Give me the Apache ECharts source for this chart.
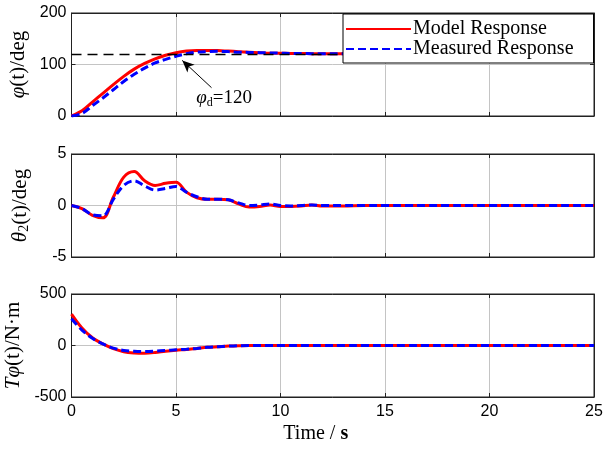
<!DOCTYPE html>
<html><head><meta charset="utf-8">
<script src="https://cdn.jsdelivr.net/npm/echarts@6/dist/echarts.min.js"></script>
<style>html,body{margin:0;padding:0;background:#fff}#c{width:606px;height:454px}</style>
</head><body><div id="c"></div>
<script>
const time = [0,0.5,1,1.5,2,2.5,3,3.5,4,4.5,5,5.5,6,6.5,7,7.5,8,8.5,9,9.5,10,10.5,11,11.5,12,13,14,15,16,17,18,19,20,21,22,23,24,25];
const phiModel = [0,10,27,44,61,77,91,102,111,118,123,126,127,127,127,126,125,124,123,122,122,121.5,121.5,121,121,121,121,121,121,121,121,121,121,121,121,121,121,121];
const phiMeasured = [0,5,20,35,51,67,81,93,103,110,116,121,124,125,125.5,125,124,123.5,123,122.5,122,121.5,121.5,121,121,121,121,121,121,121,121,121,121,121,121,121,121,121];
const thetaModel = [0,-0.3,-0.95,-1.2,0.8,2.75,3.3,2.4,1.95,2.15,2.25,1.3,0.75,0.6,0.6,0.55,0.15,-0.15,-0.1,0.05,-0.1,-0.1,-0.05,0.05,-0.05,-0.05,0,0,0,0,0,0,0,0,0,0,0,0];
const thetaMeasured = [0,-0.3,-0.9,-1.0,0.6,1.95,2.4,1.9,1.5,1.65,1.85,1.3,0.85,0.6,0.6,0.55,0.25,0,0.05,0.15,0,-0.05,0,0.05,0,0,0,0,0,0,0,0,0,0,0,0,0,0];
const torqueModel = [305,170,75,15,-30,-60,-72,-75,-68,-55,-45,-38,-28,-18,-12,-6,-2,0,0,0,0,0,0,0,0,0,0,0,0,0,0,0,0,0,0,0,0,0];
const torqueMeasured = [260,150,70,15,-25,-48,-56,-58,-55,-48,-42,-36,-28,-18,-12,-6,-2,0,0,0,0,0,0,0,0,0,0,0,0,0,0,0,0,0,0,0,0,0];
const phiDesired = 120;
const xTicks = {min:0, max:25, interval:5};
const yRanges = [{min:0,max:200,interval:100},{min:-5,max:5,interval:5},{min:-500,max:500,interval:500}];
const seriesNames = ['Model Response','Measured Response'];

const pairs = (vals) => time.map((t,i)=>[t, vals[i]]);
const serif = 'Liberation Serif';
const sans = 'Liberation Sans';
const tops = [13,154,294];
const grids = tops.map(t=>({left:71.5,right:12,top:t,height:103,show:true,borderColor:'#222',borderWidth:1,containLabel:false,outerBoundsMode:'none'}));
const xAxes = [], yAxes = [];
const gridLine = {show:true,lineStyle:{color:'#c4c4c4',width:1}};
for (let g=0; g<3; g++){
  xAxes.push({type:'value',gridIndex:g,...xTicks,position:'bottom',
    axisLine:{show:true,onZero:false,lineStyle:{color:'#222'}},
    axisTick:{show:true,inside:true,length:4,lineStyle:{color:'#222'}},
    axisLabel:{show:g===2,color:'#000',fontFamily:sans,fontSize:16,margin:7},
    splitLine:gridLine,
    name: g===2 ? '{a|Time / }{b|s}' : '', nameLocation:'middle', nameGap:27,
    nameTextStyle:{padding:[0,34,0,0],rich:{a:{fontFamily:serif,fontSize:20,color:'#000'},b:{fontFamily:serif,fontSize:20,fontWeight:'bold',color:'#000'}}}
  });
  xAxes.push({type:'value',gridIndex:g,...xTicks,position:'top',
    axisLine:{show:true,onZero:false,lineStyle:{color:'#222'}},
    axisTick:{show:true,inside:true,length:4,lineStyle:{color:'#222'}},
    axisLabel:{show:false},splitLine:{show:false}});
}
const yNames = ['{i|φ}{n|(t)/deg}','{i|θ}{s|2}{n|(t)/deg}','{i|Tφ}{n|(t)/N·m}'];
const richY = {i:{fontFamily:serif,fontStyle:'italic',fontSize:21,color:'#000'},n:{fontFamily:serif,fontSize:21,color:'#000'},s:{fontFamily:serif,fontSize:14,color:'#000',padding:[8,0,0,0]}};
for (let g=0; g<3; g++){
  yAxes.push({type:'value',gridIndex:g,...yRanges[g],position:'left',
    axisLine:{show:true,onZero:false,lineStyle:{color:'#222'}},
    axisTick:{show:true,inside:true,length:4,lineStyle:{color:'#222'}},
    axisLabel:{color:'#000',fontFamily:sans,fontSize:16,margin:5},
    splitLine:gridLine,
    name:yNames[g],nameLocation:'middle',nameRotate:90,nameGap:40,
    nameTextStyle:{rich:richY}});
  yAxes.push({type:'value',gridIndex:g,...yRanges[g],position:'right',
    axisLine:{show:true,onZero:false,lineStyle:{color:'#222'}},
    axisTick:{show:true,inside:true,length:4,lineStyle:{color:'#222'}},
    axisLabel:{show:false},splitLine:{show:false}});
}
const data = [[phiModel,phiMeasured],[thetaModel,thetaMeasured],[torqueModel,torqueMeasured]];
const series = [];
for (let g=0; g<3; g++){
  series.push({name:seriesNames[0],type:'line',xAxisIndex:2*g,yAxisIndex:2*g,data:pairs(data[g][0]),
    showSymbol:false,symbol:'none',smooth:0.35,lineStyle:{color:'#ff0000',width:3},itemStyle:{color:'#ff0000'},z:3,
    markLine: g===0 ? {silent:true,symbol:['none','none'],label:{show:false},
      lineStyle:{color:'#000',type:[10,6],width:1.3},
      data:[{yAxis:phiDesired}]} : undefined});
  series.push({name:seriesNames[1],type:'line',xAxisIndex:2*g,yAxisIndex:2*g,data:pairs(data[g][1]),
    showSymbol:false,symbol:'none',smooth:0.35,lineStyle:{color:'#0000ff',width:3,type:[8,4]},itemStyle:{color:'#3f5fb3'},z:4,
    markLine: g===0 ? {silent:true,symbol:['none','arrow'],symbolSize:[8,12],label:{show:false},
      lineStyle:{color:'#000',type:'solid',width:1},
      data:[[{coord:[6.7,55]},{coord:[5.3,108]}]]} : undefined,
    markPoint: g===0 ? {silent:true,symbol:'circle',symbolSize:0,
      label:{show:true,position:'inside',formatter:'{i|φ}{s|d}{n|=120}',
        rich:{i:{fontFamily:serif,fontStyle:'italic',fontSize:19,color:'#000'},s:{fontFamily:serif,fontSize:12,color:'#000',padding:[8,0,0,0]},n:{fontFamily:serif,fontSize:19,color:'#000'}}},
      data:[{coord:[7.3,34]}]} : undefined});
}
const chart = echarts.init(document.getElementById('c'),null,{renderer:'canvas'});
chart.setOption({
  animation:false,
  grid:grids, xAxis:xAxes, yAxis:yAxes, series:series,
  legend:{data:seriesNames.map(n=>({name:n})),orient:'vertical',left:343,top:14,itemGap:0,itemWidth:65,itemHeight:14,
    itemStyle:{opacity:0},
    backgroundColor:'#fff',borderColor:'#000',borderWidth:1,padding:[5,20,4,2],borderRadius:0,
    textStyle:{fontFamily:serif,fontSize:20,color:'#000',padding:[0,0,0,-3]},selectedMode:false,z:10}
});
</script></body></html>
